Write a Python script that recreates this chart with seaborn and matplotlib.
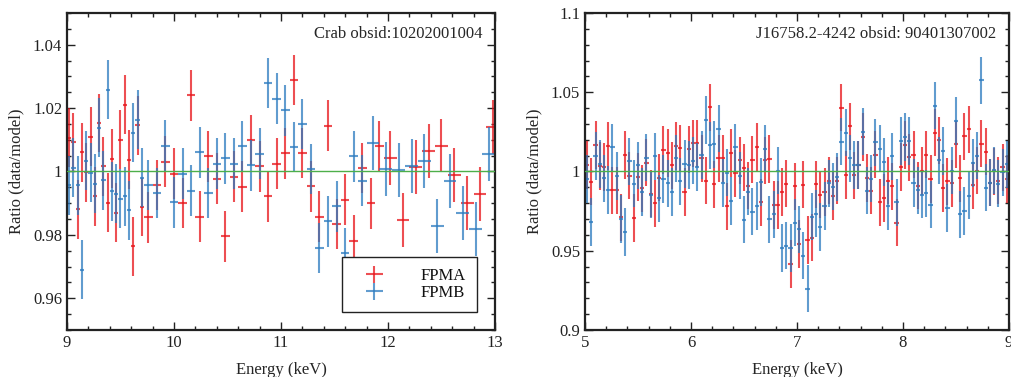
import numpy as np
import matplotlib
matplotlib.use("Agg")
import matplotlib.pyplot as plt
import seaborn as sns
from matplotlib.ticker import MultipleLocator, FuncFormatter

# ---- Crab panel (9-13 keV) ----
# energy grid: 1-channel bins (0.04 keV), then 2-channel, then 3-channel
crab_fpma_e = np.round(np.concatenate([np.arange(9.02, 9.71, 0.04),
                                       np.arange(9.76, 11.93, 0.08),
                                       np.arange(12.02, 12.99, 0.12)]), 2)
crab_fpma_xerr = [0.02] * 18 + [0.04] * 28 + [0.06] * 9
crab_fpma = [1.0106, 1.0093, 0.9881, 1.0061, 0.9998, 1.0110, 0.9922, 1.0153, 1.0016,
             0.9901, 1.0041, 0.9870, 1.0100, 1.0211, 1.0037, 0.9764, 1.0146, 0.9888,
             0.9855, 0.9957, 1.0031, 0.9993, 0.9901, 1.0240, 0.9857, 1.0048, 0.9977,
             0.9796, 0.9984, 0.9952, 1.0099, 1.0016, 0.9922, 1.0025, 1.0057, 1.0289,
             1.0058, 0.9953, 0.9858, 1.0145, 0.9834, 0.9911, 0.9782, 1.0011, 0.9900,
             1.0080, 1.0042, 0.9848, 1.0013, 1.0065, 1.0082, 0.9988, 0.9900, 0.9928,
             1.0141]
crab_fpma_err = [0.0093] * 18 + [0.0080] * 28 + [0.0085] * 9

crab_fpmb_e = np.round(np.concatenate([np.arange(9.02, 9.71, 0.04),
                                       np.arange(9.76, 11.77, 0.08),
                                       np.arange(11.86, 12.95, 0.12)]), 2)
crab_fpmb_xerr = [0.02] * 18 + [0.04] * 26 + [0.06] * 10
crab_fpmb = [0.9956, 1.0012, 0.9956, 0.9690, 1.0034, 0.9996, 0.9961, 1.0138, 0.9972,
             1.0258, 0.9937, 0.9930, 0.9914, 0.9922, 0.9877, 1.0123, 1.0163, 0.9981,
             0.9957, 0.9932, 1.0081, 0.9903, 0.9993, 0.9939, 1.0060, 0.9932, 1.0025,
             1.0042, 1.0025, 1.0079, 1.0020, 1.0056, 1.0279, 1.0230, 1.0193, 1.0077,
             1.0150, 1.0008, 0.9759, 0.9843, 0.9890, 0.9742, 1.0048, 0.9971, 1.0090,
             1.0008, 1.0005, 1.0017, 1.0033, 0.9827, 0.9971, 0.9868, 0.9818, 1.0054]
crab_fpmb_err = [0.0093] * 18 + [0.0080] * 26 + [0.0085] * 10

# ---- J16758.2-4242 panel (5-9 keV), 0.04 keV channels ----
src_e = np.round(np.arange(5.02, 8.99, 0.04), 2)
src_fpma = [1.0041, 0.9936, 1.0167, 1.0035, 1.0030, 1.0161, 0.9881, 0.9881, 0.9711, 1.0104,
            0.9974, 0.9707, 0.9967, 0.9894, 1.0056, 0.9860, 0.9799, 0.9961, 1.0136, 1.0117,
            1.0039, 1.0161, 1.0146, 0.9869, 1.0140, 1.0178, 1.0178, 1.0083, 0.9942, 1.0405,
            0.9919, 1.0083, 1.0083, 0.9780, 1.0115, 0.9988, 1.0070, 1.0024, 0.9911, 1.0075,
            1.0155, 0.9805, 1.0070, 1.0079, 0.9789, 0.9787, 0.9869, 0.9923, 0.9416, 0.9906,
            0.9541, 0.9917, 0.9568, 0.9583, 0.9919, 0.9854, 0.9871, 0.9942, 0.9845, 0.9942,
            1.0403, 0.9978, 1.0285, 0.9976, 1.0041, 1.0216, 0.9959, 0.9879, 1.0106, 0.9805,
            0.9833, 0.9942, 0.9906, 0.9677, 1.0030, 1.0167, 1.0089, 1.0106, 0.9911, 1.0003,
            1.0106, 0.9951, 1.0245, 1.0197, 0.9896, 0.9938, 0.9925, 1.0171, 0.9957, 1.0222,
            1.0266, 0.9913, 1.0005, 1.0176, 1.0125, 0.9930, 1.0001, 0.9942, 1.0026, 0.9951]
src_fpmb = [0.9951, 0.9683, 1.0098, 1.0047, 0.9957, 0.9883, 1.0152, 0.9972, 0.9700, 0.9618,
            1.0064, 0.9923, 1.0039, 0.9869, 1.0087, 0.9854, 1.0096, 0.9831, 0.9951, 0.9925,
            0.9871, 1.0083, 0.9938, 1.0049, 1.0041, 1.0068, 1.0030, 1.0104, 1.0325, 1.0165,
            1.0171, 1.0270, 0.9927, 0.9993, 0.9814, 1.0152, 0.9974, 0.9696, 0.9873, 0.9747,
            0.9782, 0.9934, 1.0144, 0.9698, 0.9730, 1.0005, 0.9519, 0.9532, 0.9519, 0.9677,
            0.9635, 0.9469, 0.9261, 0.9715, 0.9734, 0.9650, 0.9784, 0.9925, 0.9904, 0.9967,
            1.0188, 1.0245, 1.0083, 1.0041, 1.0041, 1.0251, 0.9879, 0.9955, 1.0184, 1.0144,
            1.0060, 0.9782, 1.0096, 0.9805, 1.0192, 1.0218, 1.0192, 0.9927, 0.9881, 0.9854,
            0.9862, 0.9791, 1.0415, 1.0070, 1.0131, 0.9770, 1.0005, 1.0317, 0.9730, 0.9751,
            0.9848, 1.0052, 1.0100, 1.0575, 0.9898, 0.9930, 1.0007, 0.9923, 0.9995, 1.0045]
src_err = 0.015
src_xerr = 0.02

labels = ["FPMA", "FPMB"]
colors = ["#e8141a", "#2c7bbf"]

sns.set_theme(style="ticks")
plt.rcParams["font.family"] = ["Liberation Serif", "DejaVu Serif"]

fig = plt.figure(figsize=(10.12, 3.77), dpi=100)
ax1 = fig.add_axes([0.0662, 0.1247, 0.4229, 0.8408])
ax2 = fig.add_axes([0.578, 0.1247, 0.4190, 0.8408])

kw = dict(fmt="none", elinewidth=1.5, alpha=0.75, capsize=0)

ax1.errorbar(crab_fpma_e, crab_fpma, xerr=crab_fpma_xerr, yerr=crab_fpma_err,
             ecolor=colors[0], label=labels[0], **kw)
ax1.errorbar(crab_fpmb_e, crab_fpmb, xerr=crab_fpmb_xerr, yerr=crab_fpmb_err,
             ecolor=colors[1], label=labels[1], **kw)
ax2.errorbar(src_e, src_fpma, xerr=src_xerr, yerr=src_err, ecolor=colors[0], **kw)
ax2.errorbar(src_e, src_fpmb, xerr=src_xerr, yerr=src_err, ecolor=colors[1], **kw)

fmt = FuncFormatter(lambda v, p: f"{v:g}")
for ax, xlim, ylim, ymaj, ymin in [(ax1, (9, 13), (0.95, 1.05), 0.02, 0.005),
                                   (ax2, (5, 9), (0.9, 1.1), 0.05, 0.01)]:
    ax.axhline(1.0, color="#4daf4a", lw=1.0, zorder=3)
    ax.set_xlim(*xlim)
    ax.set_ylim(*ylim)
    ax.xaxis.set_major_locator(MultipleLocator(1))
    ax.xaxis.set_minor_locator(MultipleLocator(0.2))
    ax.yaxis.set_major_locator(MultipleLocator(ymaj))
    ax.yaxis.set_minor_locator(MultipleLocator(ymin))
    ax.yaxis.set_major_formatter(fmt)
    ax.tick_params(which="both", direction="in", top=True, right=True,
                   labelsize=12, colors="#222222", width=1.0)
    ax.tick_params(which="major", length=6)
    ax.tick_params(which="minor", length=3)
    for s in ax.spines.values():
        s.set_linewidth(1.6)
        s.set_color("#222222")
    ax.set_xlabel("Energy (keV)", fontsize=12, labelpad=8)
    ax.set_ylabel("Ratio (data/model)", fontsize=12, labelpad=6)

ax1.text(0.972, 0.91, "Crab obsid:10202001004", transform=ax1.transAxes,
         ha="right", va="bottom", fontsize=12)
ax2.text(0.97, 0.91, "J16758.2-4242 obsid: 90401307002", transform=ax2.transAxes,
         ha="right", va="bottom", fontsize=12)

leg = ax1.legend(loc="lower right", bbox_to_anchor=(0.958, 0.057), borderaxespad=0,
                 fontsize=12, frameon=True, fancybox=False, edgecolor="#222222",
                 framealpha=1.0, borderpad=0.65, handlelength=2.6,
                 handletextpad=1.5, labelspacing=0.05)
leg.get_frame().set_linewidth(1.0)
leg.set_zorder(5)
for t in leg.get_texts():
    t.set_color("#111111")

fig.savefig("out.png", dpi=100)
